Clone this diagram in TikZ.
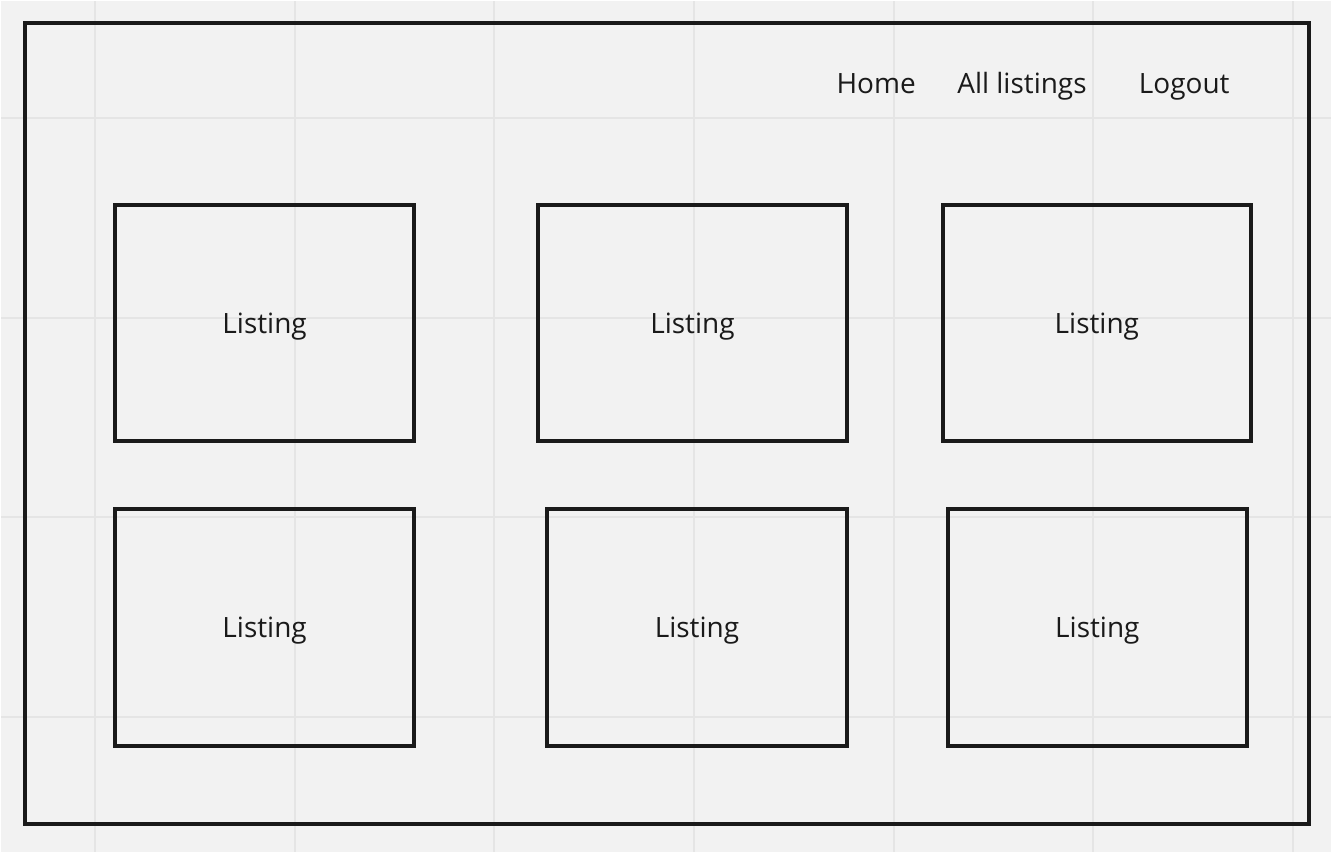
\documentclass[tikz,border=0pt]{standalone}
\usepackage{fontspec}
\setmainfont{Open Sans}
\usetikzlibrary{calc}

\definecolor{bggray}{HTML}{F2F2F2}
\definecolor{gridgray}{HTML}{E5E5E5}
\definecolor{inkblack}{HTML}{1A1A1A}

\begin{document}
\begin{tikzpicture}[x=0.75pt,y=-0.75pt,
        gridline/.style={draw=gridgray,line width=1.5pt},
        pageframe/.style={draw=inkblack,line width=3pt},
        navtext/.style={anchor=base,text=inkblack,font=\fontsize{21}{25}\selectfont},
        listing/.style={draw=inkblack,line width=3pt,text=inkblack,
            minimum height=177.75pt,text height=15pt,text depth=0pt,inner sep=0pt,
            font=\fontsize{21}{25}\selectfont}]

        % 背景と方眼
        \fill[bggray] (0,0) rectangle (1332,852);
        \foreach \gx in {94,294,...,1294}
            \draw[gridline] (\gx,0) -- (\gx,852);
        \foreach \gy in {117,317,...,717}
            \draw[gridline] (0,\gy) -- (1332,\gy);

        % 外枠
        \coordinate (frameNW) at (24,22);
        \coordinate (frameSE) at (1310,824);
        \draw[pageframe] (frameNW) rectangle (frameSE);

        % メニュー
        \node[navtext] (home) at (876.5,93) {Home};
        \node[navtext] (all) at (1022.5,93) {All listings};
        \node[navtext] (logout) at (1185,93) {Logout};

        % 一段目
        \node[listing,minimum width=225pt] (list1) at (264,322.5) {Listing};
        \node[listing,minimum width=231.75pt] (list2) at (692.5,322.5) {Listing};
        \node[listing,minimum width=231.75pt] (list3) at (1097.5,322.5) {Listing};

        % 二段目
        \node[listing,minimum width=225pt] (list4) at (264,627.5) {Listing};
        \node[listing,minimum width=225pt] (list5) at (697,627.5) {Listing};
        \node[listing,minimum width=225pt] (list6) at (1098,627.5) {Listing};

    \end{tikzpicture}
\end{document}
